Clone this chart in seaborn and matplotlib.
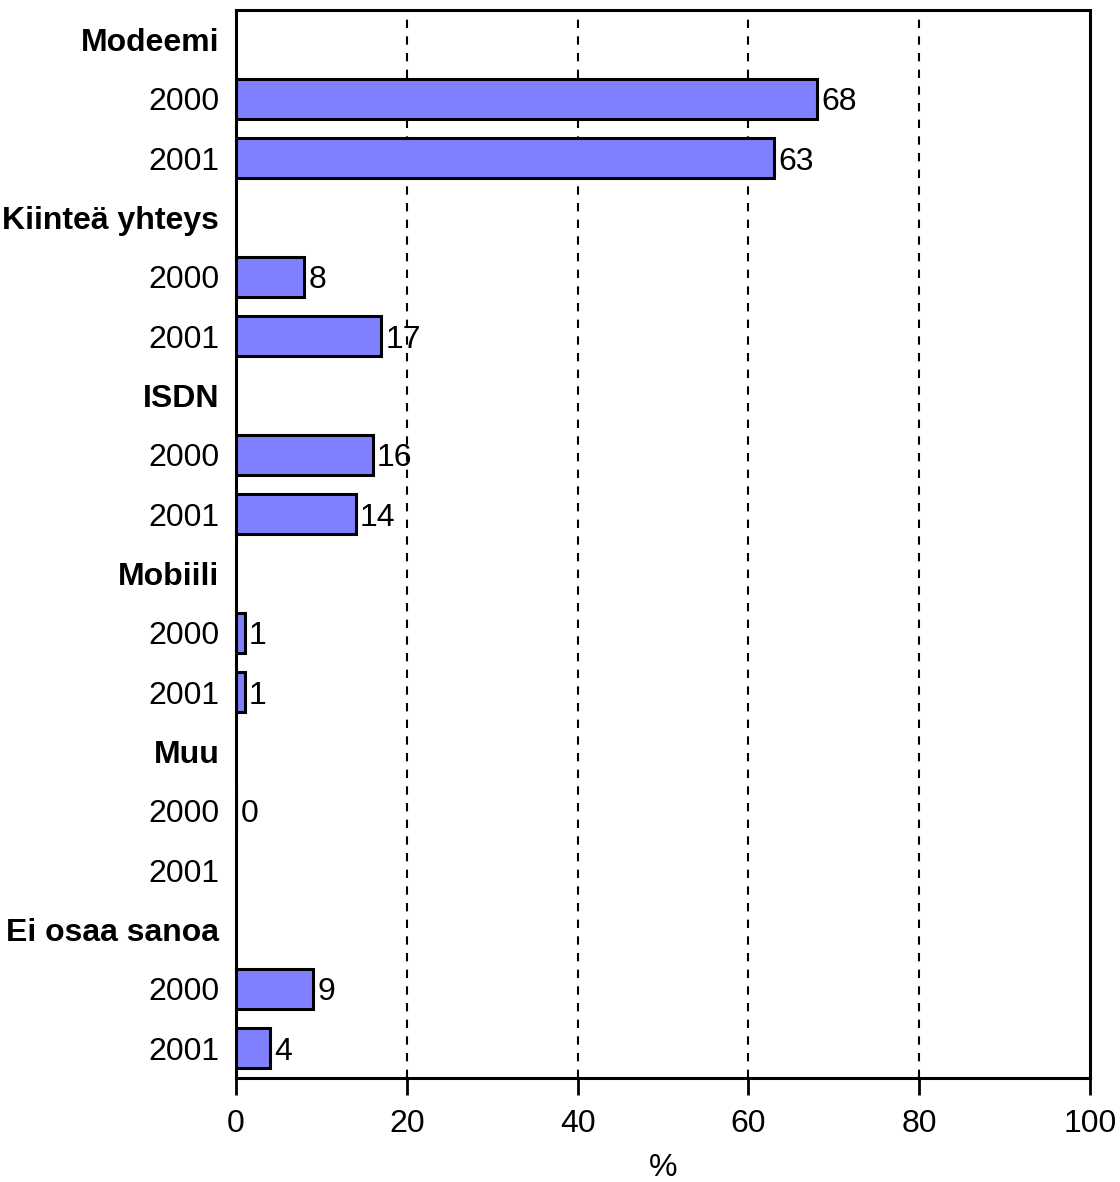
import numpy as np
import pandas as pd
import matplotlib
matplotlib.use("Agg")
import matplotlib.pyplot as plt
import seaborn as sns

# Categories and yearly shares (%)
groups = ["Modeemi", "Kiinteä yhteys", "ISDN", "Mobiili", "Muu", "Ei osaa sanoa"]
years = ["2000", "2001"]
values_2000 = [68, 8, 16, 1, 0, 9]
values_2001 = [63, 17, 14, 1, np.nan, 4]

# Build one row per line of the chart: group header, then the two years
rows = []
for g, v0, v1 in zip(groups, values_2000, values_2001):
    rows.append({"label": g, "value": np.nan, "header": True})
    rows.append({"label": years[0], "value": v0, "header": False})
    rows.append({"label": years[1], "value": v1, "header": False})
df = pd.DataFrame(rows)
df["row"] = [f"r{i}" for i in range(len(df))]

sns.set_style("white")
plt.rcParams["font.family"] = ["Liberation Sans", "DejaVu Sans"]
plt.rcParams["text.color"] = "black"
plt.rcParams["axes.labelcolor"] = "black"
plt.rcParams["xtick.color"] = "black"
plt.rcParams["ytick.color"] = "black"

fs = 23

fig = plt.figure(figsize=(11.2, 11.82), dpi=100)
ax = fig.add_axes([236 / 1120, 1 - 1078 / 1182, 854 / 1120, 1068 / 1182])

sns.barplot(
    data=df,
    x="value",
    y="row",
    order=list(df["row"]),
    orient="h",
    color="#8080FF",
    saturation=1,
    edgecolor="black",
    linewidth=2.2,
    width=0.67,
    errorbar=None,
    ax=ax,
)

# Value labels
for i, v in enumerate(df["value"]):
    if not np.isnan(v):
        ax.text(v + 0.5, i, f"{v:g}", va="center_baseline", ha="left", fontsize=fs)

ax.set_xlim(0, 100)
ax.set_ylim(len(df) - 0.5, -0.5)
ax.set_xticks(range(0, 101, 20))
ax.tick_params(axis="x", bottom=True, labelsize=fs, length=12.5, width=2,
               direction="out", pad=10)
ax.tick_params(axis="y", left=False, length=0, pad=12)
ax.set_yticks(range(len(df)))
ax.set_yticklabels(df["label"], fontsize=fs)
for lbl, hdr in zip(ax.get_yticklabels(), df["header"]):
    if hdr:
        lbl.set_fontweight("bold")

for x in [20, 40, 60, 80]:
    ax.axvline(x, color="black", linestyle=(0, (4, 4)), linewidth=1.5, zorder=0)

for s in ax.spines.values():
    s.set_visible(True)
    s.set_color("black")
    s.set_linewidth(2.2)

ax.set_xlabel("%", fontsize=fs, labelpad=10)
ax.set_ylabel("")

fig.savefig("out.png", dpi=100)
